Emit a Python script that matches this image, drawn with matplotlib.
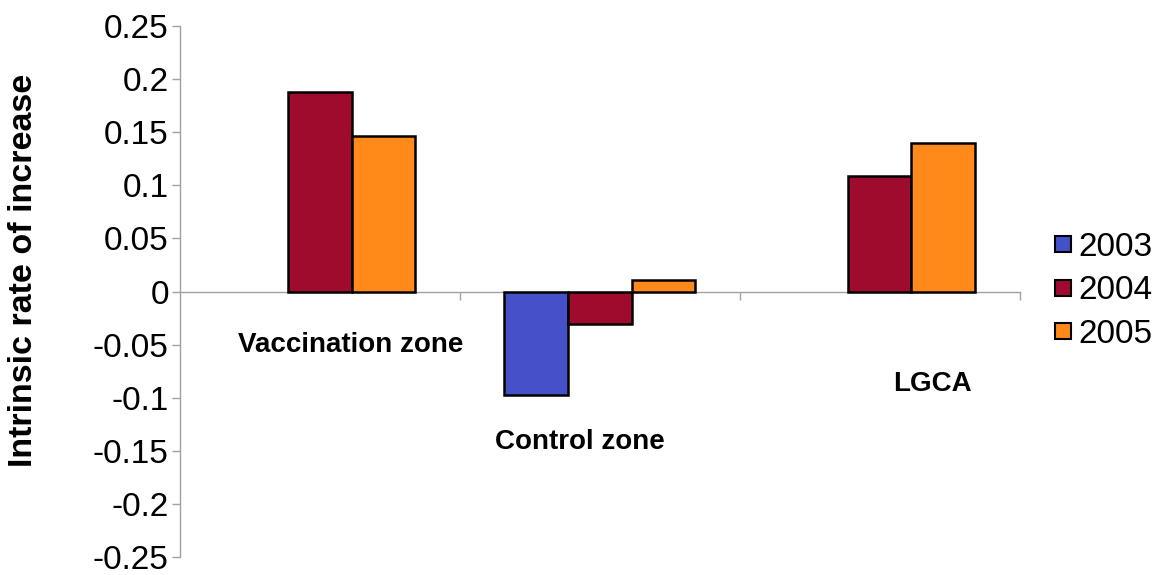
import numpy as np
from matplotlib import pyplot as plt
from matplotlib.lines import Line2D

plt.rcParams['font.family'] = ['Liberation Sans', 'DejaVu Sans']

# data
zones = ["Vaccination zone", "Control zone", "LGCA"]
years = ["2003", "2004", "2005"]
r2003 = [np.nan, -0.097, np.nan]
r2004 = [0.188, -0.031, 0.109]
r2005 = [0.146, 0.011, 0.140]
colors = ["#4650C8", "#9E0B2C", "#FF8A1A"]

# where the zone names sit (they were placed by hand in the original)
label_pos = [(0.11, -0.05), (0.93, -0.142), (2.19, -0.087)]

fig = plt.figure(figsize=(11.68, 5.75), dpi=100)
ax = fig.add_axes([0.154, 0.031, 0.719, 0.924])

x = np.arange(len(zones))
w = 0.227
for i, (vals, c) in enumerate(zip([r2003, r2004, r2005], colors)):
    ax.bar(x + (i - 1) * w, vals, width=w, color=c, edgecolor="black",
           linewidth=1.8, zorder=3)

ax.set_xlim(-0.5, 2.5)
ax.set_ylim(-0.25, 0.25)
ax.set_yticks(np.arange(-0.25, 0.2501, 0.05))
ax.set_yticklabels(["-0.25", "-0.2", "-0.15", "-0.1", "-0.05", "0",
                    "0.05", "0.1", "0.15", "0.2", "0.25"], fontsize=24)

ax.spines['top'].set_visible(False)
ax.spines['right'].set_visible(False)
ax.spines['bottom'].set_position(('data', 0))
for s in ['left', 'bottom']:
    ax.spines[s].set_color("#a0a0a8")
    ax.spines[s].set_linewidth(1.0)

ax.set_xticks([0.5, 1.5, 2.5])
ax.set_xticklabels([])
ax.tick_params(axis='both', direction='out', length=6, color="#a0a0a8", width=1)
ax.tick_params(axis='y', pad=2)

for name, (lx, ly) in zip(zones, label_pos):
    ax.text(lx, ly, name, ha="center", va="center", fontsize=20,
            fontweight="bold")

fig.text(0.02, 0.53, "Intrinsic rate of increase", rotation=90,
         ha="center", va="center", fontsize=24.5, fontweight="bold")

# square legend keys
handles = [Line2D([], [], ls="none", marker="s", markersize=11,
                  markerfacecolor=c, markeredgecolor="black",
                  markeredgewidth=1.5) for c in colors]
leg = ax.legend(handles, years, loc="center left",
                bbox_to_anchor=(0.889, 0.494),
                bbox_transform=fig.transFigure, frameon=False, fontsize=24,
                handlelength=0.5, handletextpad=0.2,
                labelspacing=0.38, borderpad=0)

fig.savefig("out.png", dpi=100)
